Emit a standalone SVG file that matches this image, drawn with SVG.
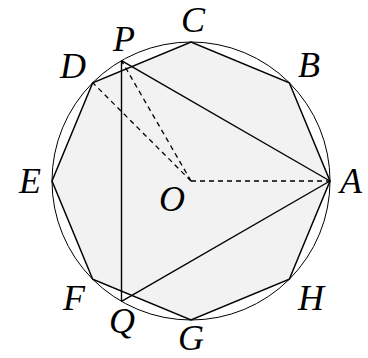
<svg xmlns="http://www.w3.org/2000/svg" width="368" height="358" viewBox="0 0 368 358">
<style>
.lbl{font-family:"Liberation Serif","Times New Roman",serif;font-style:italic;font-size:36px;fill:#000;text-anchor:middle}
.solid{stroke:#000;stroke-width:1.4;fill:none}
.dash{stroke:#000;stroke-width:1.3;fill:none;stroke-dasharray:5 4}
</style>
<rect width="368" height="358" fill="#fff"/>
<g id="circle"><circle cx="191" cy="181" r="139" fill="none" stroke="#000" stroke-width="1"/></g>
<g id="octagon"><polygon points="330,181 289.3,82.7 191,42 92.7,82.7 52,181 92.7,279.3 191,320 289.3,279.3" fill="#f2f2f2" stroke="#000" stroke-width="1.5" stroke-linejoin="miter"/></g>
<g id="connectors">
<line class="solid" x1="121.5" y1="60.6" x2="330" y2="181"/>
<line class="solid" x1="121.5" y1="60.6" x2="121.5" y2="301.4"/>
<line class="solid" x1="121.5" y1="301.4" x2="330" y2="181"/>
<line class="dash" x1="191" y1="181" x2="330" y2="181"/>
<line class="dash" x1="191" y1="181" x2="92.7" y2="82.7"/>
<line class="dash" x1="191" y1="181" x2="121.5" y2="60.6"/>
</g>
<g id="node-A"><text class="lbl" x="351" y="193">A</text></g>
<g id="node-B"><text class="lbl" x="309" y="77">B</text></g>
<g id="node-C"><text class="lbl" x="193" y="32">C</text></g>
<g id="node-D"><text class="lbl" x="73" y="78">D</text></g>
<g id="node-E"><text class="lbl" x="30" y="193">E</text></g>
<g id="node-F"><text class="lbl" x="74" y="310">F</text></g>
<g id="node-G"><text class="lbl" x="191" y="350">G</text></g>
<g id="node-H"><text class="lbl" x="311" y="310">H</text></g>
<g id="node-P"><text class="lbl" x="124" y="51">P</text></g>
<g id="node-Q"><text class="lbl" x="122" y="333">Q</text></g>
<g id="node-O"><text class="lbl" x="172" y="211">O</text></g>
</svg>
